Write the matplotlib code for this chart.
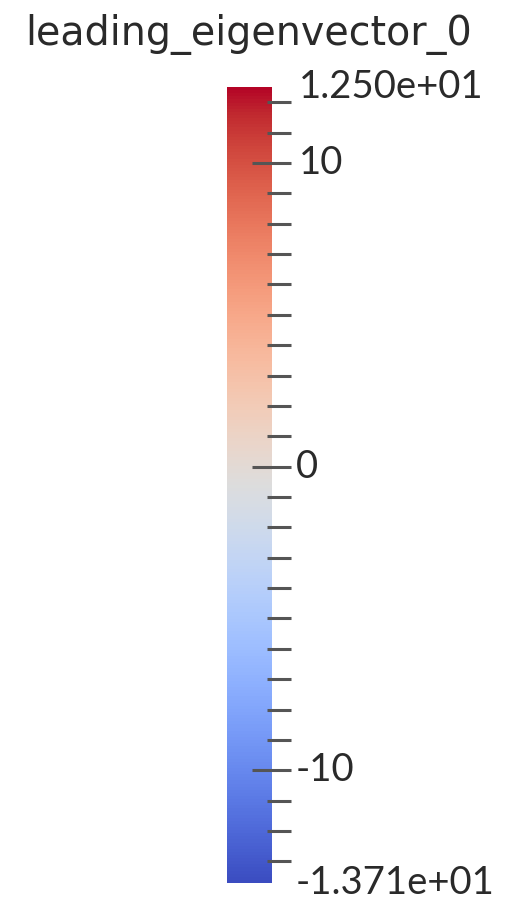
import numpy as np
import matplotlib
matplotlib.use("Agg")
import matplotlib.pyplot as plt
from matplotlib.colors import Normalize
from matplotlib.cm import ScalarMappable
import matplotlib.transforms as mtransforms

# Scalar range and labelled ticks of the field
title = "leading_eigenvector_0"
range_min = -13.71
range_max = 12.5
major_ticks = [-10, 0, 10]
minor_ticks = list(range(-13, 13))
end_labels = ["-1.371e+01", "1.250e+01"]

plt.rcParams["font.family"] = ["Lato", "DejaVu Sans"]

fig = plt.figure(figsize=(5.2, 9.15), dpi=100)
cax = fig.add_axes([227 / 520, 32 / 915, 45 / 520, 796 / 915])

norm = Normalize(vmin=range_min, vmax=range_max)
sm = ScalarMappable(norm=norm, cmap=plt.get_cmap("coolwarm", 256))
cb = fig.colorbar(sm, cax=cax, orientation="vertical")
cb.outline.set_visible(False)
cax.set_yticks([])
cax.tick_params(left=False, right=False, labelleft=False, labelright=False)

# tick marks: x in axes fraction, y in data units
trans = mtransforms.blended_transform_factory(cax.transAxes, cax.transData)
tick_color = "#555555"
for v in minor_ticks:
    if v in major_ticks:
        x0 = 0.56
    else:
        x0 = 0.89
    cax.plot([x0, 1.42], [v, v], color=tick_color, lw=2.2,
             transform=trans, clip_on=False, solid_capstyle="butt")

label_kw = dict(transform=trans, ha="left", va="center", fontsize=27.5,
                color="#2a2a2a", clip_on=False)
for v in major_ticks:
    x = 1.6 if v > 0 else 1.52
    cax.text(x, v, str(v), **label_kw)
cax.text(1.52, range_min, end_labels[0], **label_kw)
cax.text(1.6, range_max, end_labels[1], **label_kw)

fig.text(25 / 520, 1 - 45 / 915, title, ha="left", va="baseline",
         fontsize=28.5, color="#2a2a2a", family="DejaVu Sans")

fig.savefig("out.png", dpi=100)
